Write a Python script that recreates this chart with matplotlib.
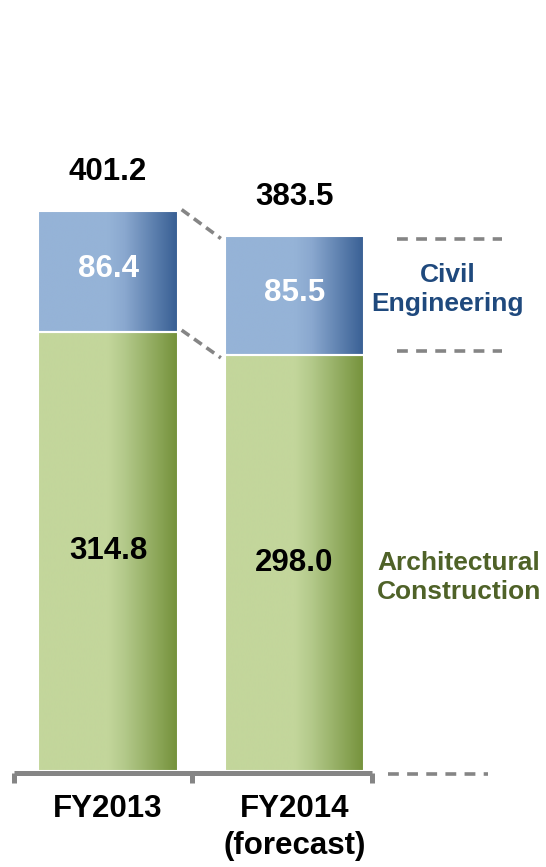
import matplotlib
matplotlib.use("Agg")
import matplotlib.pyplot as plt
import numpy as np
from matplotlib.colors import LinearSegmentedColormap

# ---- data ----
categories = ["FY2013", "FY2014\n(forecast)"]
architectural = [314.8, 298.0]
civil = [86.4, 85.5]
totals = [401.2, 383.5]
series_names = ["Civil\nEngineering", "Architectural\nConstruction"]

plt.rcParams['font.family'] = ['Liberation Sans', 'DejaVu Sans']

W, H = 546, 867
fig = plt.figure(figsize=(W / 100, H / 100), dpi=100)
ax = fig.add_axes([0, 0, 1, 1])
ax.axis("off")

# pixel mapping: bar centres 108px and 294.5px, baseline 771px, 1.3958 px/unit
px_per_cat = 186.5
px_per_unit = 1.3958
x0px, y0px = 108, 771

x = np.arange(len(categories))
width = 0.75

blue_cmap = LinearSegmentedColormap.from_list(
    "b", [(0, "#95B3D7"), (0.5, "#95B3D7"), (0.62, "#8AA8CF"), (1, "#375E93")])
green_cmap = LinearSegmentedColormap.from_list(
    "g", [(0, "#C3D69B"), (0.5, "#C3D69B"), (0.62, "#B3C98A"), (1, "#74913A")])

grad = np.linspace(0, 1, 256).reshape(1, -1)

bars_g = ax.bar(x, architectural, width, color="none", edgecolor="white", linewidth=1.5, zorder=3)
bars_b = ax.bar(x, civil, width, bottom=architectural, color="none", edgecolor="white",
                linewidth=1.5, zorder=3)

for bars, cmap in ((bars_g, green_cmap), (bars_b, blue_cmap)):
    for r in bars:
        bx, by, bw, bh = r.get_x(), r.get_y(), r.get_width(), r.get_height()
        im = ax.imshow(grad, extent=[bx, bx + bw, by, by + bh], cmap=cmap,
                       aspect="auto", zorder=2, interpolation="bilinear")
        im.set_clip_path(r)

ax.set_xlim(-x0px / px_per_cat, (W - x0px) / px_per_cat)
ax.set_ylim(-(H - y0px) / px_per_unit, y0px / px_per_unit)

fs = 22.5
# value labels
for i in range(len(x)):
    ax.text(x[i], totals[i] + 28, f"{totals[i]:.1f}", ha="center", va="center",
            fontsize=fs, fontweight="bold", color="black", zorder=5)
    ax.text(x[i], architectural[i] + civil[i] / 2 + 2, f"{civil[i]:.1f}", ha="center",
            va="center", fontsize=fs, fontweight="bold", color="white", zorder=5)
    ax.text(x[i], architectural[i] / 2, f"{architectural[i]:.1f}", ha="center",
            va="center", fontsize=fs, fontweight="bold", color="black", zorder=5)

gray = "#858585"
# connectors between bars
gap = 0.02
for ys in (totals, architectural):
    ax.plot([x[0] + width / 2 + gap, x[1] - width / 2 - gap], [ys[0] + 1, ys[1] - 2],
            color=gray, lw=2.6, ls=(0, (2.6, 1.6)), zorder=4, solid_capstyle="butt")

# right side dashed guide lines
for yv, xa, xb in ((totals[1] - 2, 1.55, 2.113), (architectural[1] + 3, 1.55, 2.113), (-2, 1.5, 2.04)):
    ax.plot([xa, xb], [yv, yv], color=gray, lw=2.6, ls=(0, (3, 2.3)), zorder=4)

# base axis with brackets
ax_left, ax_mid, ax_right = -0.504, 0.450, 1.416
yb = -1.5
ax.plot([ax_left, ax_right], [yb, yb], color=gray, lw=3.6, solid_capstyle="butt", zorder=4)
for xt in (ax_left, ax_mid, ax_right):
    ax.plot([xt, xt], [yb, -8.6], color=gray, lw=3.6, solid_capstyle="butt", zorder=4)

# category labels
for i, c in enumerate(categories):
    ax.text(x[i], -16.5, c, ha="center", va="top", fontsize=fs, fontweight="bold",
            color="black", linespacing=1.32)

# series labels
ax.text(1.823, architectural[1] + civil[1] / 2 + 4, series_names[0], ha="center",
        va="center", fontsize=19, fontweight="bold", color="#1F497D", linespacing=1.26)
ax.text(1.88, architectural[1] / 2 - 10.5, series_names[1], ha="center",
        va="center", fontsize=19, fontweight="bold", color="#4F6228", linespacing=1.26)

fig.savefig("out.png", dpi=100)
